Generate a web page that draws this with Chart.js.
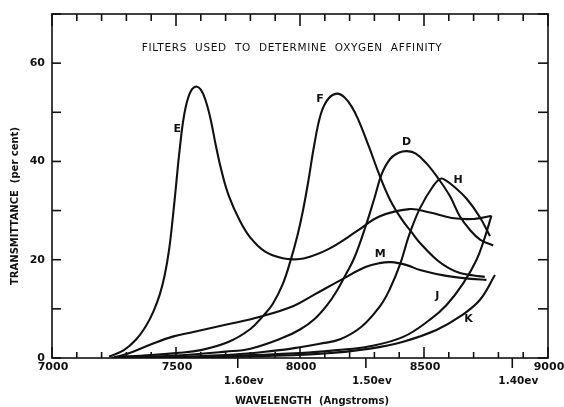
<!DOCTYPE html>
<html>
<head>
<meta charset="utf-8">
<script src="https://cdn.jsdelivr.net/npm/chart.js@4/dist/chart.umd.min.js"></script>
<style>
  html, body { margin: 0; padding: 0; background: #fff; }
  canvas { display: block; }
</style>
</head>
<body>
<canvas id="chart" width="564" height="407"></canvas>
<script>
// transmittance of each filter, [wavelength (A), per cent]
const filterE = [[7230,0.3],[7290,1.6],[7340,3.8],[7380,6.6],[7410,9.6],[7435,13],[7455,17],
  [7472,22],[7487,28.5],[7500,35],[7515,42.5],[7533,49.5],[7555,53.8],[7578,55.2],[7600,54.6],
  [7620,52.3],[7640,48.5],[7660,43.4],[7684,38],[7713,33],[7757,28],[7800,24.5],[7858,21.7],
  [7930,20.3],[7990,20.1],[8040,20.6],[8120,22.3],[8235,26],[8320,28.8],[8440,30.3],
  [8525,29.6],[8612,28.5],[8700,28.3],[8770,28.9]];
const filterF = [[7250,0.2],[7400,0.6],[7500,1],[7600,1.6],[7713,3.3],[7800,5.9],[7850,8.5],
  [7890,11],[7930,15],[7960,19.5],[7990,25],[8010,29.5],[8032,35.5],[8058,43.5],[8085,49.8],
  [8115,52.8],[8150,53.8],[8180,53],[8210,51],[8235,48.5],[8278,43],[8322,37],[8365,32],
  [8409,28.3],[8450,25.6],[8484,23.4],[8551,20],[8600,18.3],[8645,17.3],[8700,16.8],[8745,16.5]];
const filterD = [[7260,0.1],[7500,0.5],[7700,1.3],[7800,1.9],[7930,4.1],[8000,5.8],[8060,8],
  [8110,10.8],[8150,13.8],[8190,17.5],[8220,20.5],[8264,26.7],[8300,32.5],[8330,37.5],
  [8365,40.6],[8400,41.8],[8432,42.1],[8467,41.6],[8510,39.6],[8558,36.5],[8605,32.9],
  [8645,28.8],[8685,26.1],[8726,24.1],[8779,22.9]];
const filterH = [[7300,0],[7700,0.6],[7900,1.5],[8000,2.2],[8080,2.9],[8162,3.8],[8249,6.4],
  [8322,10.5],[8360,13.8],[8403,19],[8440,25],[8484,30.5],[8537,35],[8568,36.5],[8592,36],
  [8618,35],[8672,32.4],[8726,28.6],[8766,24.8]];
const filterM = [[7240,0],[7301,0.8],[7400,2.8],[7490,4.4],[7570,5.3],[7704,6.8],[7839,8.4],
  [7974,10.6],[8061,13],[8162,15.8],[8264,18.5],[8320,19.3],[8368,19.5],[8430,18.9],
  [8484,17.9],[8550,17.1],[8618,16.5],[8690,16.1],[8752,15.9]];
const filterJ = [[7300,0],[7700,0.4],[8000,1],[8150,1.6],[8282,2.4],[8416,4.3],[8524,7.8],
  [8591,10.8],[8658,15.2],[8712,20],[8745,24.5],[8772,29]];
const filterK = [[7350,0],[7800,0.3],[8100,0.9],[8282,1.9],[8416,3.3],[8550,5.7],[8644,8.4],
  [8725,11.8],[8786,16.9]];

const curveNames = ['E', 'F', 'D', 'H', 'M', 'J', 'K'];
const curveData = [filterE, filterF, filterD, filterH, filterM, filterJ, filterK];
// where each filter letter sits, in axis units
const namePlaces = [[7505,46.5],[8081,52.7],[8430,43.9],[8638,36.2],[8323,21.2],[8554,12.5],[8679,8]];

// axes
const waveLabels = [7000, 7500, 8000, 8500, 9000];
const evLabels = [1.60, 1.50, 1.40];
const transLabels = [0, 20, 40, 60];

const ink = '#111';

const paperAxes = {
  id: 'paperAxes',
  afterDraw(chart) {
    const { ctx, chartArea: a, scales: { x, y } } = chart;
    const seg = (x1, y1, x2, y2) => {
      ctx.beginPath(); ctx.moveTo(x1, y1); ctx.lineTo(x2, y2); ctx.stroke();
    };
    ctx.save();
    ctx.strokeStyle = ink;
    ctx.fillStyle = ink;
    ctx.lineWidth = 1.6;
    ctx.strokeRect(a.left, a.top, a.right - a.left, a.bottom - a.top);

    // wavelength ticks every 100 A, longer every 500, on bottom and top
    for (let w = 7000; w <= 9000; w += 100) {
      const px = x.getPixelForValue(w);
      const big = w % 500 === 0;
      seg(px, a.bottom, px, a.bottom - (big ? 11 : 6));
      seg(px, a.top, px, a.top + (big ? 12 : 7));
    }
    // transmittance ticks every 10 on both sides
    for (let t = 0; t <= 70; t += 10) {
      const py = y.getPixelForValue(t);
      seg(a.left, py, a.left + 9, py);
      seg(a.right, py, a.right - 10, py);
    }
    // photon energy ticks hang below the axis
    evLabels.forEach(ev => {
      const px = x.getPixelForValue(12398.4 / ev);
      seg(px, a.bottom, px, a.bottom + 10);
    });

    ctx.font = 'bold 11px "DejaVu Sans"';
    ctx.textAlign = 'center';
    ctx.textBaseline = 'top';
    waveLabels.forEach(w => ctx.fillText(String(w), x.getPixelForValue(w) + 1, a.bottom + 4));

    ctx.font = 'bold 10.5px "DejaVu Sans"';
    evLabels.forEach(ev => {
      ctx.fillText(ev.toFixed(2) + 'ev', x.getPixelForValue(12398.4 / ev) + 6, a.bottom + 18);
    });

    ctx.font = 'bold 11px "DejaVu Sans"';
    ctx.textAlign = 'right';
    ctx.textBaseline = 'middle';
    transLabels.forEach(t => ctx.fillText(String(t), a.left - 7, y.getPixelForValue(t)));

    // filter letters
    ctx.textAlign = 'center';
    curveNames.forEach((n, i) => {
      ctx.fillText(n, x.getPixelForValue(namePlaces[i][0]), y.getPixelForValue(namePlaces[i][1]));
    });

    // heading inside the frame, spread out like hand lettering
    const head = 'FILTERS  USED  TO  DETERMINE  OXYGEN  AFFINITY';
    ctx.font = '10.5px "DejaVu Sans"';
    const plain = ctx.measureText(head).width;
    ctx.letterSpacing = ((300 - plain) / (head.length - 1)).toFixed(2) + 'px';
    ctx.fillText(head, x.getPixelForValue(7968), y.getPixelForValue(63));
    ctx.letterSpacing = '0px';

    // axis titles
    ctx.font = 'bold 10px "DejaVu Sans"';
    ctx.fillText('WAVELENGTH  (Angstroms)', (a.left + a.right) / 2 + 12, a.bottom + 43);
    ctx.save();
    ctx.translate(15, (a.top + a.bottom) / 2 + 20);
    ctx.rotate(-Math.PI / 2);
    ctx.fillText('TRANSMITTANCE  (per cent)', 0, 0);
    ctx.restore();

    ctx.restore();
  }
};

new Chart(document.getElementById('chart'), {
  type: 'line',
  data: {
    datasets: curveData.map((pts, i) => ({
      label: curveNames[i],
      data: pts.map(p => ({ x: p[0], y: p[1] })),
      borderColor: ink,
      borderWidth: 2.1,
      pointRadius: 0,
      fill: false,
      tension: 0.4
    }))
  },
  options: {
    responsive: false,
    devicePixelRatio: 1,
    animation: false,
    layout: { padding: { left: 52, right: 16, top: 14, bottom: 49 } },
    plugins: { legend: { display: false }, tooltip: { enabled: false } },
    scales: {
      x: { type: 'linear', min: 7000, max: 9000, display: false },
      y: { type: 'linear', min: 0, max: 70, display: false }
    }
  },
  plugins: [paperAxes]
});
</script>
</body>
</html>
